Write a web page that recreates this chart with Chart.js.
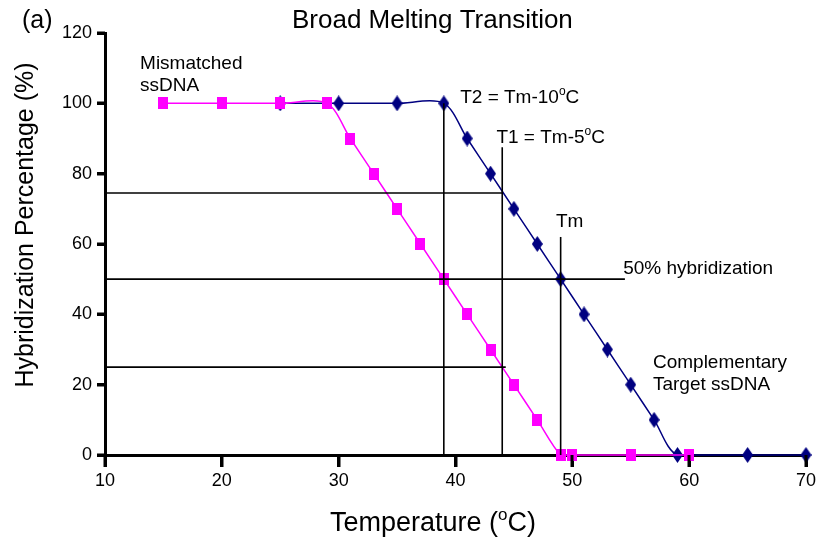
<!DOCTYPE html>
<html>
<head>
<meta charset="utf-8">
<script src="https://cdn.jsdelivr.net/npm/chart.js@4.4.1/dist/chart.umd.min.js"></script>
<style>
  html, body { margin: 0; padding: 0; background: #fff; }
  #wrap { width: 820px; height: 540px; }
</style>
</head>
<body>
<div id="wrap"><canvas id="myChart" width="820" height="540"></canvas></div>
<script>
// melting curves: temperature (C) vs hybridization (%)
const mismatchTemps = [15, 20, 25, 29, 31, 33, 35, 37, 39, 41, 43, 45, 47, 49, 50, 55, 60];
const mismatchPct = [100, 100, 100, 100, 90, 80, 70, 60, 50, 40, 30, 20, 10, 0, 0, 0, 0];
const complementTemps = [25, 30, 35, 39, 41, 43, 45, 47, 49, 51, 53, 55, 57, 59, 65, 70];
const complementPct = [100, 100, 100, 100, 90, 80, 70, 60, 50, 40, 30, 20, 10, 0, 0, 0];

// guide lines marking T2, T1, Tm and the read-off levels
const t2Line = [[39, 0], [39, 100]];
const t1Line = [[44, 0], [44, 87.5]];
const tmLine = [[49, 0], [49, 62]];
const level75 = [[10, 74.5], [44, 74.5]];
const level50 = [[10, 50], [54.5, 50]];
const level25 = [[10, 25], [44.3, 25]];

const xTicks = [10, 20, 30, 40, 50, 60, 70];
const yTicks = [0, 20, 40, 60, 80, 100, 120];

const FONT = '"Liberation Sans", Arial, sans-serif';

function pts(xs, ys) {
    return xs.map((x, i) => ({ x: x, y: ys[i] }));
}
function pairs(arr) {
    return arr.map(p => ({ x: p[0], y: p[1] }));
}

// marker images
function squareMarker() {
    const c = document.createElement('canvas');
    c.width = 10; c.height = 12;
    const g = c.getContext('2d');
    g.fillStyle = '#ff00ff';
    g.fillRect(0, 0, 10, 12);
    return c;
}
function diamondMarker() {
    const c = document.createElement('canvas');
    c.width = 11; c.height = 16;
    const g = c.getContext('2d');
    g.fillStyle = '#000080';
    g.beginPath();
    g.moveTo(5.5, 0); g.lineTo(11, 8); g.lineTo(5.5, 16); g.lineTo(0, 8);
    g.closePath();
    g.fill();
    return c;
}

function guide(arr) {
    return {
        data: pairs(arr),
        borderColor: '#000',
        borderWidth: 1.6,
        pointRadius: 0,
        tension: 0,
        clip: false,
    };
}

// text with a raised small "o" before the final C
function drawDegText(ctx, before, after, x, y, size) {
    ctx.font = size + 'px ' + FONT;
    ctx.fillText(before, x, y);
    let w = ctx.measureText(before).width;
    const small = Math.round(size * 0.62);
    ctx.font = small + 'px ' + FONT;
    ctx.fillText('o', x + w, y - size * 0.42);
    w += ctx.measureText('o').width;
    ctx.font = size + 'px ' + FONT;
    ctx.fillText(after, x + w, y);
}

// heavy outward tick marks on both axes
const tickMarks = {
    id: 'tickMarks',
    afterDraw(chart) {
        const ctx = chart.ctx;
        const { left, bottom } = chart.chartArea;
        const xs = chart.scales.x;
        const ys = chart.scales.y;
        ctx.save();
        ctx.strokeStyle = '#000';
        ctx.lineWidth = 3;
        ctx.lineCap = 'butt';
        ctx.beginPath();
        xTicks.forEach(v => {
            const x = Math.round(xs.getPixelForValue(v));
            ctx.moveTo(x, bottom);
            ctx.lineTo(x, bottom + 12);
        });
        yTicks.forEach(v => {
            const y = Math.round(ys.getPixelForValue(v));
            ctx.moveTo(left - 8, y);
            ctx.lineTo(left, y);
        });
        ctx.stroke();
        ctx.restore();
    }
};

const labelsPlugin = {
    id: 'labels',
    afterDraw(chart) {
        const ctx = chart.ctx;
        const xs = chart.scales.x;
        const ys = chart.scales.y;
        const px = v => xs.getPixelForValue(v);
        const py = v => ys.getPixelForValue(v);
        ctx.save();
        ctx.fillStyle = '#000';
        ctx.textBaseline = 'alphabetic';
        ctx.textAlign = 'left';

        ctx.font = '25px ' + FONT;
        ctx.fillText('(a)', 22, 28);
        ctx.font = '26px ' + FONT;
        ctx.fillText('Broad Melting Transition', 292, 28);

        ctx.font = '19px ' + FONT;
        ctx.fillText('Mismatched', px(13), py(109.8));
        ctx.fillText('ssDNA', px(13), py(103.5));
        drawDegText(ctx, 'T2 = Tm-10', 'C', px(40.4), py(100.1), 19);
        drawDegText(ctx, 'T1 = Tm-5', 'C', px(43.5), py(88.7), 19);
        ctx.font = '19px ' + FONT;
        ctx.fillText('Tm', px(48.6), py(64.8));
        ctx.fillText('50% hybridization', px(54.35), py(51.5));
        ctx.fillText('Complementary', px(56.9), py(24.7));
        ctx.fillText('Target ssDNA', px(56.9), py(18.5));

        // axis titles
        drawDegText(ctx, 'Temperature (', 'C)', 330, 531, 27);
        ctx.translate(33, 225);
        ctx.rotate(-Math.PI / 2);
        ctx.textAlign = 'center';
        ctx.font = '25px ' + FONT;
        ctx.fillText('Hybridization Percentage (%)', 0, 0);
        ctx.restore();
    }
};

const ctx = document.getElementById('myChart').getContext('2d');

const myChart = new Chart(ctx, {
    type: 'line',
    data: {
        datasets: [
            guide(t2Line), guide(t1Line), guide(tmLine),
            guide(level75), guide(level50), guide(level25),
            {
                label: 'Mismatched ssDNA',
                data: pts(mismatchTemps, mismatchPct),
                borderColor: '#ff00ff',
                borderWidth: 1.5,
                pointStyle: squareMarker(),
                tension: 0.3,
                clip: false,
            },
            {
                label: 'Complementary Target ssDNA',
                data: pts(complementTemps, complementPct),
                borderColor: '#000080',
                borderWidth: 1.5,
                pointStyle: diamondMarker(),
                tension: 0.3,
                clip: false,
            },
        ],
    },
    options: {
        responsive: false,
        animation: false,
        layout: { padding: { left: 0, right: 14, top: 33, bottom: 0 } },
        plugins: {
            legend: { display: false },
            tooltip: { enabled: false },
            title: { display: false },
        },
        scales: {
            x: {
                type: 'linear',
                min: 10,
                max: 70,
                afterBuildTicks: s => { s.ticks = xTicks.map(v => ({ value: v })); },
                afterFit: s => { s.height = 85; },
                border: { display: true, color: '#000', width: 3 },
                grid: { drawOnChartArea: false, drawTicks: true, tickLength: 12, tickWidth: 3, tickColor: '#000' },
                ticks: { color: '#000', padding: 3, font: { family: FONT, size: 18 } },
            },
            y: {
                min: 0,
                max: 120,
                afterBuildTicks: s => { s.ticks = yTicks.map(v => ({ value: v })); },
                afterFit: s => { s.width = 105; },
                border: { display: true, color: '#000', width: 3 },
                grid: { drawOnChartArea: false, drawTicks: true, tickLength: 8, tickWidth: 3, tickColor: '#000' },
                ticks: { color: '#000', padding: 5, font: { family: FONT, size: 18 } },
            },
        },
    },
    plugins: [tickMarks, labelsPlugin],
});
</script>
</body>
</html>
